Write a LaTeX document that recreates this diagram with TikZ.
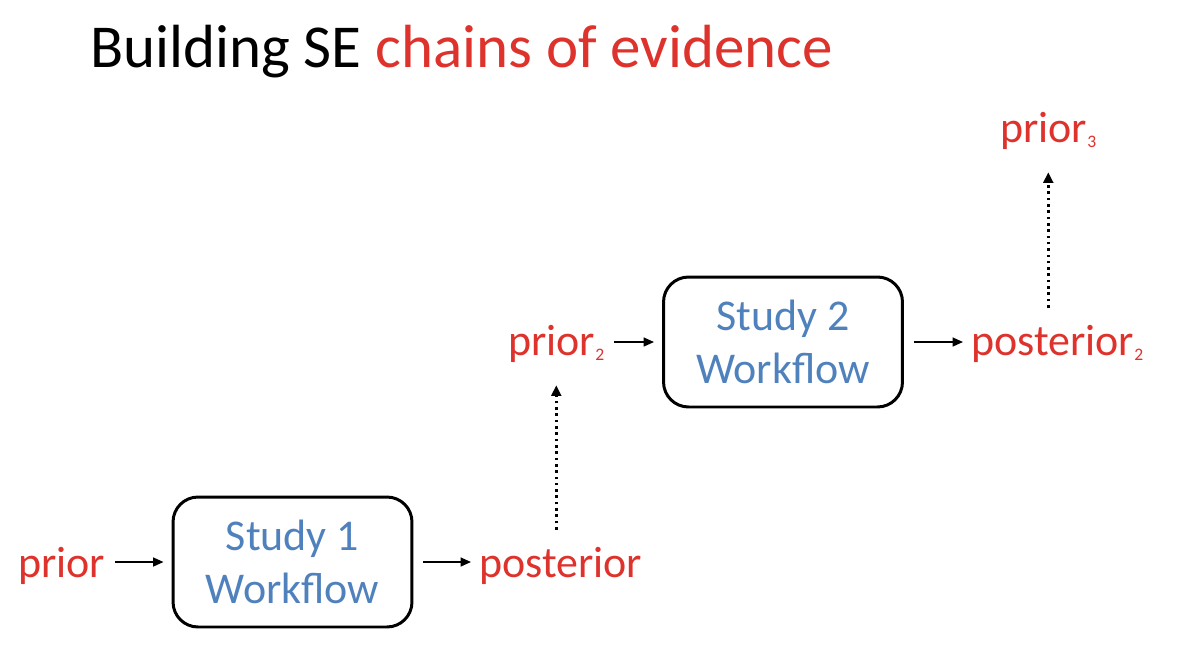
\documentclass[tikz,border=0pt]{standalone}
\usepackage{fontspec}
\setmainfont{Carlito}
\usepackage{xcolor}
\usetikzlibrary{arrows.meta}

\definecolor{evred}{RGB}{222,50,44}
\definecolor{studyblue}{RGB}{79,129,189}
\newcommand{\subidx}[1]{\raisebox{-3pt}{\fontsize{10}{10}\selectfont #1}}

\begin{document}
\begin{tikzpicture}[x=0.02cm, y=-0.02cm,
    study/.style={draw, rounded corners=0.5cm, line width=1.7pt, minimum width=4.78cm, minimum height=2.6cm, align=center, text=studyblue, font=\fontsize{25}{30}\selectfont},
    evlabel/.style={inner sep=0pt, anchor=base west, text=evred, font=\fontsize{25}{30}\selectfont},
    flow/.style={-{Triangle[length=6pt,width=5pt]}, line width=1.2pt, shorten <=5.5pt, shorten >=4.5pt},
    carry/.style={-{Triangle[length=6pt,width=5.5pt]}, line width=1.5pt, dash pattern=on 1.5pt off 2.1pt, shorten <=9.5pt, shorten >=13pt}]
    \useasboundingbox (0,0) rectangle (1200,647);
    
    \node (title) [anchor=base west, inner sep=0pt, font=\fontsize{34.7}{40}\selectfont] at (90,67) {Building SE \textcolor{evred}{chains of evidence}};
    
    \node (study1) [study] at (292.5,562) {Study 1\\Workflow};
    \node (study2) [study] at (783,342) {Study 2\\Workflow};
    
    \node (prior) [evlabel] at (18,577) {prior};
    \node (posterior) [evlabel] at (479,577) {posterior};
    \node (prior2) [evlabel] at (508,355) {prior\subidx{2}};
    \node (posterior2) [evlabel] at (971,355) {posterior\subidx{2}};
    \node (prior3) [evlabel] at (1000,142) {prior\subidx{3}};
    
    \draw[flow] (prior.east |- study1.west) -- (study1.west);
    \draw[flow] (study1.east) -- (posterior.west |- study1.east);
    \draw[carry] (posterior.north -| prior2.south) -- (prior2.south);
    \draw[flow] (prior2.east |- study2.west) -- (study2.west);
    \draw[flow] (study2.east) -- (posterior2.west |- study2.east);
    \draw[carry] (posterior2.north -| prior3.south) -- (prior3.south);
    
\end{tikzpicture}
\end{document}
